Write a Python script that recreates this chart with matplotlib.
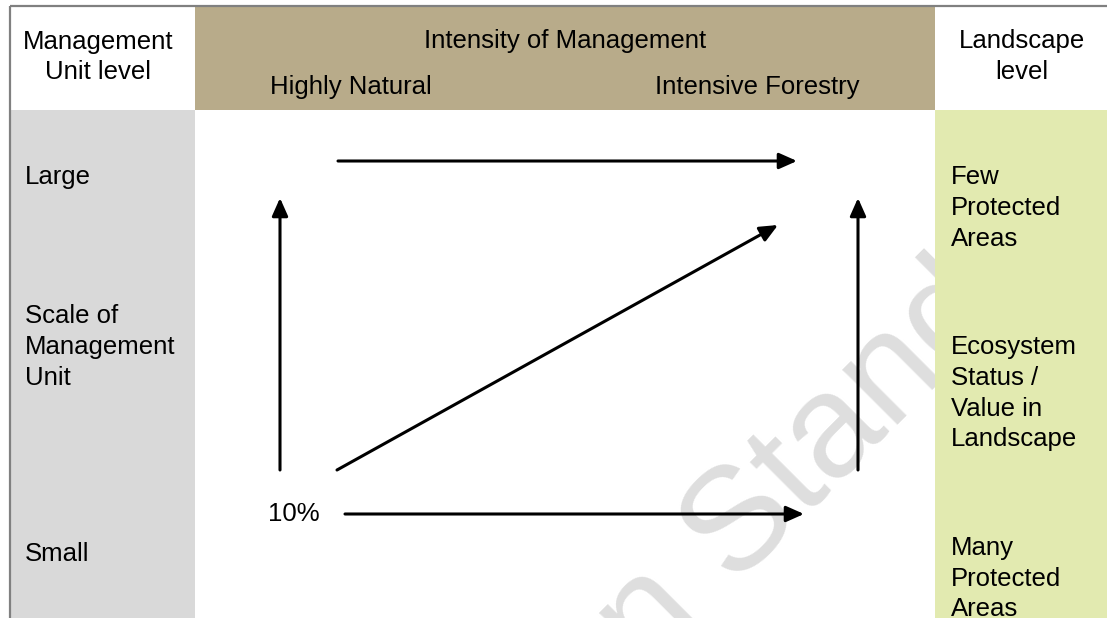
import matplotlib
matplotlib.use("Agg")
import matplotlib.pyplot as plt
from matplotlib.patches import Rectangle

plt.rcParams['font.family'] = ['Liberation Sans', 'DejaVu Sans']

# ---- content ----
header_left = ["Management", "Unit level"]
header_mid_title = "Intensity of Management"
header_mid_labels = ["Highly Natural", "Intensive Forestry"]
header_right = ["Landscape", "level"]
left_labels = [["Large"], ["Scale of", "Management", "Unit"], ["Small"]]
right_labels = [["Few", "Protected", "Areas"],
                ["Ecosystem", "Status /", "Value in", "Landscape"],
                ["Many", "Protected", "Areas"]]
percent_label = "10%"
watermark = "Version Standard"

# arrows: (x_start, y_start, x_end, y_end) in pixel space of the diagram
arrow_x0 = [338, 280, 337, 858, 345]
arrow_y0 = [161, 470, 470, 470, 514]
arrow_x1 = [797, 280, 778, 858, 804]
arrow_y1 = [161, 198, 225, 198, 514]

# ---- layout ----
W, H = 1107, 618
fig = plt.figure(figsize=(W / 100, H / 100), dpi=100)
ax = fig.add_axes([0, 0, 1, 1])
ax.set_xlim(0, W)
ax.set_ylim(H, 0)
ax.axis('off')

TAN = '#b8ab8a'
GRAY = '#d9d9d9'
GREEN = '#e2eab0'
FS = 18.5

# panels
ax.add_patch(Rectangle((195, 7), 740, 103, facecolor=TAN, edgecolor='none', zorder=2))
ax.add_patch(Rectangle((935, 7), W - 935, 103, facecolor='white', edgecolor='none', zorder=2))
ax.add_patch(Rectangle((11, 110), 184, H - 110, facecolor=GRAY, edgecolor='none', zorder=2))
ax.add_patch(Rectangle((935, 110), W - 935, H - 110, facecolor=GREEN, edgecolor='none', zorder=2))

# border
ax.plot([10, W], [6, 6], color='#808080', lw=1.6, zorder=5, solid_capstyle='butt')
ax.plot([10, 10], [6, H], color='#808080', lw=1.6, zorder=5, solid_capstyle='butt')

# watermark
ax.text(358, 964, watermark, rotation=45, rotation_mode='anchor', ha='left',
        va='baseline', fontsize=106, color='#dedede', zorder=1)

OFF = 9  # baseline offset from visual centre
def lines(x, ys, texts, ha):
    for y, t in zip(ys, texts):
        ax.text(x, y + OFF, t, ha=ha, va='baseline', fontsize=FS, color='black', zorder=6)

lines(98, [40, 70], header_left, 'center')
lines(565, [39], [header_mid_title], 'center')
lines(351, [85], [header_mid_labels[0]], 'center')
lines(757, [85], [header_mid_labels[1]], 'center')
lines(1022, [39, 70], header_right, 'center')

left_y = [[175], [314, 345, 376], [552]]
for ys, ts in zip(left_y, left_labels):
    lines(25, ys, ts, 'left')

right_y = [[175, 206, 237], [345, 376, 407, 437], [546, 577, 607]]
for ys, ts in zip(right_y, right_labels):
    lines(951, ys, ts, 'left')

lines(294, [512], [percent_label], 'center')

for x0, y0, x1, y1 in zip(arrow_x0, arrow_y0, arrow_x1, arrow_y1):
    ax.annotate('', xy=(x1, y1), xytext=(x0, y0),
                arrowprops=dict(arrowstyle='-|>,head_length=0.45,head_width=0.2',
                                lw=2.2, color='black', mutation_scale=24,
                                shrinkA=0, shrinkB=0),
                zorder=4)

fig.savefig('out.png', dpi=100, facecolor='white')
